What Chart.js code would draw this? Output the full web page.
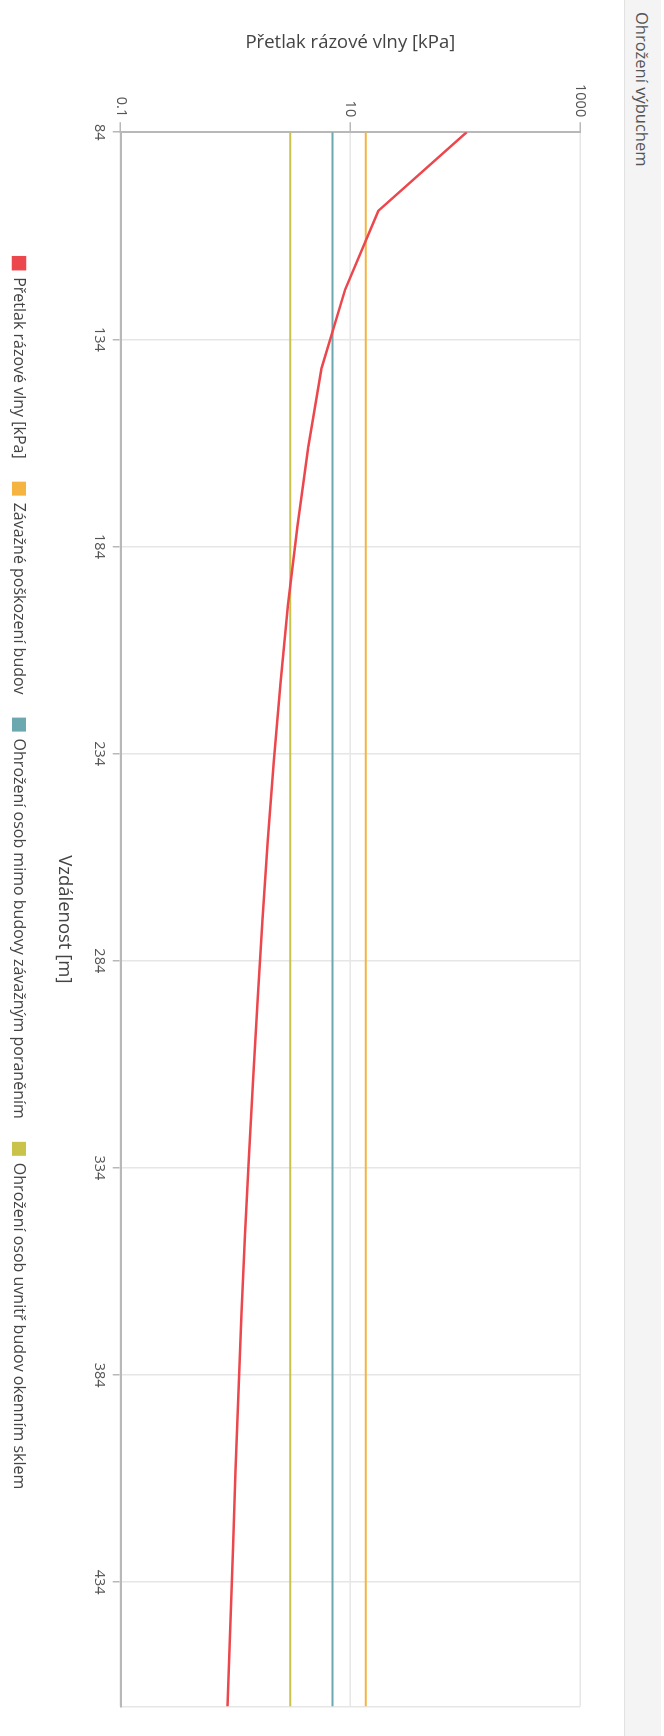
<!DOCTYPE html>
<html lang="cs">
<head>
<meta charset="utf-8">
<title>Ohrožení výbuchem</title>
<script src="https://cdn.jsdelivr.net/npm/chart.js@4/dist/chart.umd.min.js"></script>
<style>
  html, body { margin: 0; padding: 0; background: #fff; overflow: hidden; }
  body { width: 664px; height: 1736px; position: relative; }
  /* the panel is laid out landscape and turned a quarter clockwise */
  #stage {
    position: absolute; left: 0; top: 0;
    width: 1736px; height: 664px;
    transform-origin: 0 0;
    transform: translate(664px, 0) rotate(90deg);
    background: #fff;
  }
  #header {
    position: absolute; left: 0; top: 3px;
    width: 1736px; height: 37px;
    background: #f4f4f4;
    border-bottom: 1px solid #e2e2e2;
    font-family: "Open Sans", "Noto Sans", sans-serif;
    font-size: 16.5px; color: #555;
    line-height: 37px;
    padding-left: 12px; box-sizing: border-box;
  }
  #plot { position: absolute; left: 0; top: 41px; width: 1736px; height: 623px; }
</style>
</head>
<body>
<div id="stage">
  <div id="header">Ohrožení výbuchem</div>
  <div id="plot"><canvas id="chart" width="1736" height="623"></canvas></div>
</div>
<script>
// distance from the source [m]
const distances = [84, 103, 122, 141, 160, 179, 198, 217, 236, 255, 274,
                   293, 312, 331, 350, 369, 388, 407, 426, 445, 464];
// blast wave overpressure [kPa]
const overpressure = [103, 17.5, 9.0, 5.6, 4.3, 3.47, 2.86, 2.46, 2.15, 1.91, 1.72,
                      1.56, 1.43, 1.31, 1.21, 1.13, 1.06, 1.00, 0.95, 0.90, 0.85];
// threshold levels [kPa]
const severeBuildingDamage = 13.6;
const outdoorInjury = 7.0;
const indoorGlassInjury = 3.0;

const distanceTicks = [84, 134, 184, 234, 284, 334, 384, 434];
const pressureTicks = [0.1, 10, 1000];

const seriesNames = [
  'Přetlak rázové vlny [kPa]',
  'Závažné poškození budov',
  'Ohrožení osob mimo budovy závažným poraněním',
  'Ohrožení osob uvnitř budov okenním sklem'
];
const seriesColors = ['#ec474c', '#f5b440', '#6ba8af', '#c9c24b'];

const dMin = distances[0];
const dMax = distances[distances.length - 1];

function levelLine(v) {
  return [{ x: dMin, y: v }, { x: dMax, y: v }];
}

const datasets = [
  { data: distances.map((d, i) => ({ x: d, y: overpressure[i] })), borderWidth: 2.5 },
  { data: levelLine(severeBuildingDamage), borderWidth: 2 },
  { data: levelLine(outdoorInjury), borderWidth: 2 },
  { data: levelLine(indoorGlassInjury), borderWidth: 2 }
].map((ds, i) => Object.assign(ds, {
  label: seriesNames[i],
  borderColor: seriesColors[i],
  backgroundColor: seriesColors[i],
  pointRadius: 0,
  pointHoverRadius: 0,
  tension: 0,
  fill: false
}));

const FONT = '"Open Sans", "Noto Sans", sans-serif';

new Chart(document.getElementById('chart'), {
  type: 'line',
  data: { datasets },
  options: {
    responsive: false,
    animation: false,
    events: [],
    layout: { padding: { top: 43, right: 29.5, bottom: 1, left: 40 } },
    plugins: {
      tooltip: { enabled: false },
      legend: {
        position: 'bottom',
        labels: {
          boxWidth: 12, boxHeight: 12, padding: 24,
          color: '#444',
          font: { family: FONT, size: 16 }
        }
      }
    },
    scales: {
      x: {
        type: 'linear',
        min: dMin, max: dMax,
        afterBuildTicks: (axis) => {
          axis.ticks = distanceTicks.concat([dMax]).map(v => ({ value: v }));
        },
        afterFit: (axis) => { axis.height = 69.7; },
        ticks: {
          autoSkip: false, maxRotation: 0, padding: 5,
          color: '#555', font: { family: FONT, size: 14.5 },
          callback: (v) => distanceTicks.includes(v) ? String(v) : ''
        },
        grid: {
          color: '#e6e6e6', lineWidth: 1.5, tickLength: 8,
          tickColor: (ctx) => (ctx.tick && distanceTicks.includes(ctx.tick.value)) ? '#b8b8b8' : 'rgba(0,0,0,0)'
        },
        border: { color: '#b8b8b8', width: 2 },
        title: {
          display: true, text: 'Vzdálenost [m]',
          color: '#444', font: { family: FONT, size: 18.5 },
          padding: { top: 4, bottom: 2 }
        }
      },
      y: {
        type: 'logarithmic',
        min: pressureTicks[0], max: pressureTicks[pressureTicks.length - 1],
        afterBuildTicks: (axis) => {
          axis.ticks = pressureTicks.map(v => ({ value: v }));
        },
        afterFit: (axis) => { axis.width = 92.2; },
        ticks: {
          autoSkip: false, padding: 5,
          color: '#555', font: { family: FONT, size: 14.5 },
          callback: (v) => String(v)
        },
        grid: { color: '#e6e6e6', lineWidth: 1.5, tickLength: 10, tickColor: '#b8b8b8' },
        border: { color: '#b8b8b8', width: 2 },
        title: {
          display: true, text: 'Přetlak rázové vlny [kPa]',
          color: '#444', font: { family: FONT, size: 18.5 },
          padding: { top: -8, bottom: 4 }
        }
      }
    }
  }
});
</script>
</body>
</html>
